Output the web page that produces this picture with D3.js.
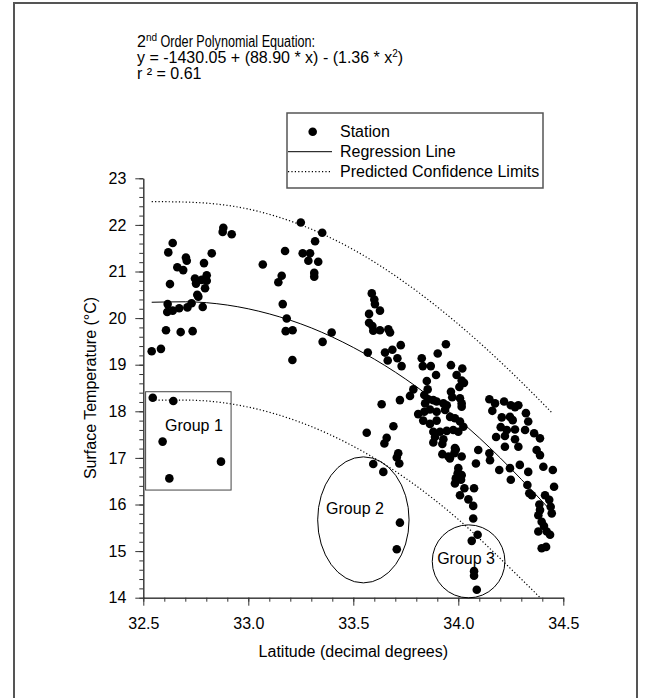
<!DOCTYPE html>
<html><head><meta charset="utf-8">
<script src="https://cdn.jsdelivr.net/npm/d3@7"></script>
<style>
html,body{margin:0;padding:0;background:#fff;}
text{font-family:"Liberation Sans",Arial,sans-serif;}
</style></head>
<body><svg id="c" width="649" height="698"></svg>
<script>
// ---- data ----
const stationLat = [
32.540,32.584,32.608,32.678,32.735,32.616,32.614,32.640,32.671,32.710,32.730,32.757,32.762,32.783,32.627,32.751,32.746,32.778,32.802,32.802,32.794,32.690,32.662,32.703,32.707,32.789,32.826,32.619,32.640,32.881,32.878,32.921,
33.069,33.175,33.143,33.159,33.164,33.183,33.178,33.211,33.210,33.250,33.286,33.259,33.294,33.318,33.333,33.314,33.314,33.352,33.354,33.397,
32.545,32.643,32.592,32.870,32.624,
33.595,33.643,33.722,33.707,
34.064,34.092,34.075,34.075,34.088,
33.588,33.600,33.603,33.627,33.575,33.575,33.591,33.595,33.627,33.667,33.675,33.569,33.651,33.686,33.726,33.664,33.710,33.730,33.941,33.902,33.826,33.831,33.869,33.965,34.019,33.894,33.992,33.850,34.016,34.005,34.027,33.786,33.770,33.854,33.838,33.857,33.881,33.897,33.965,33.971,34.008,33.722,33.635,33.842,33.929,34.016,
33.945,34.016,33.809,33.838,33.865,33.897,33.937,33.961,33.984,34.008,33.833,33.865,33.897,34.024,33.881,33.913,33.945,33.976,34.000,33.889,33.929,33.881,33.924,33.988,33.924,33.953,33.981,34.016,34.000,33.997,33.988,34.013,34.029,34.008,34.048,33.564,33.691,33.659,33.648,33.714,33.707,33.719,
34.148,34.175,34.218,34.250,34.270,34.286,34.162,34.322,34.207,34.246,34.259,34.333,34.202,34.231,34.270,34.318,34.361,34.180,34.222,34.270,34.389,
33.984,33.960,34.016,33.984,34.071,34.075,34.071,34.286,34.222,34.148,34.151,34.095,34.084,34.195,34.250,34.246,34.293,34.333,34.373,34.389,34.405,34.450,34.456,34.329,34.338,34.350,34.413,34.433,34.440,34.445,34.386,34.389,34.381,34.397,34.408,34.421,34.437,34.381,34.397,34.418
];
const stationTemp = [
19.29,19.34,19.74,19.70,19.72,20.30,20.13,20.16,20.21,20.23,20.32,20.50,20.46,20.24,20.73,20.74,20.85,20.82,20.92,20.80,20.64,21.03,21.09,21.30,21.23,21.18,21.39,21.41,21.61,21.94,21.85,21.80,
21.15,21.44,20.77,20.91,20.30,19.99,19.72,19.74,19.10,22.05,21.23,21.39,21.39,21.65,21.21,20.97,20.89,21.83,19.49,19.69,
18.29,18.22,17.35,16.92,16.56,
16.87,16.70,15.61,15.04,
15.22,15.35,14.57,14.47,14.17,
20.53,20.40,20.30,20.16,20.09,19.90,19.83,19.73,19.74,19.76,19.69,19.26,19.26,19.32,19.42,19.09,19.14,18.97,19.44,19.24,19.14,18.97,18.97,18.99,18.92,18.78,18.78,18.65,18.66,18.52,18.61,18.47,18.33,18.47,18.35,18.26,18.24,18.21,18.42,18.30,18.28,18.24,18.15,18.17,18.17,18.17,
18.13,18.10,17.94,17.99,18.04,17.99,18.03,17.88,17.85,17.78,17.80,17.73,17.80,17.67,17.56,17.56,17.58,17.60,17.56,17.45,17.40,17.33,17.30,17.18,17.08,17.03,17.10,17.03,16.78,16.67,16.56,16.53,16.35,16.20,16.11,17.54,17.68,17.43,17.31,17.10,17.01,16.88,
18.26,18.17,18.21,18.13,18.09,18.13,18.01,17.96,17.87,17.88,17.81,17.78,17.66,17.60,17.61,17.60,17.53,17.45,17.47,17.40,17.42,
17.21,16.99,16.63,16.45,15.97,16.35,15.70,17.24,17.24,17.10,16.95,17.17,16.88,16.74,16.53,16.78,16.85,16.70,17.17,17.06,16.81,16.74,16.38,16.42,16.24,16.20,16.20,16.10,15.95,15.81,16.00,15.88,15.77,15.63,15.54,15.42,15.35,15.42,15.06,15.09
];
// regression line and predicted confidence limits
const regLat   = [32.54,32.70,32.90,33.10,33.30,33.50,33.70,33.90,34.10,34.30,34.43];
const regTemp  = [20.34,20.35,20.28,20.09,19.79,19.37,18.84,18.19,17.43,16.54,15.92];
const upperLat  = [32.54,32.70,33.00,33.25,33.50,33.75,34.00,34.25,34.45];
const upperTemp = [22.50,22.49,22.34,22.00,21.47,20.75,19.87,18.85,17.95];
const lowerLat  = [32.54,32.70,33.00,33.25,33.50,33.75,34.00,34.25,34.39];
const lowerTemp = [18.24,18.24,18.09,17.76,17.25,16.56,15.68,14.62,14.00];
// ticks and labels
const xMajorTicks = [32.5,33.0,33.5,34.0,34.5];
const yMajorTicks = [14,15,16,17,18,19,20,21,22,23];
const xTitle = "Latitude (decimal degrees)";
const yTitle = "Surface Temperature (\u00B0C)";
const legendLabels = ["Station","Regression Line","Predicted Confidence Limits"];
const groupLabels = ["Group 1","Group 2","Group 3"];

// ---- layout ----
const svg = d3.select("#c");
const font = '"Liberation Sans",Arial,sans-serif';
svg.append("rect").attr("width",649).attr("height",698).attr("fill","#fff");
svg.append("rect").attr("x",14).attr("y",3).attr("width",623).attr("height",740)
  .attr("fill","none").attr("stroke","#555").attr("stroke-width",2);

const x = d3.scaleLinear().domain([32.5,34.5]).range([143.3,563.3]);
const y = d3.scaleLinear().domain([14,23]).range([597.7,178.3]);

// minor ticks
const xMinor = d3.range(32.5,34.5001,0.1).map(v=>+v.toFixed(1));
const yMinor = d3.range(14,23.0001,0.2).map(v=>+v.toFixed(1));
const gxm = svg.append("g").attr("transform",`translate(0,${y(14)})`)
  .call(d3.axisBottom(x).tickValues(xMinor).tickSize(4).tickSizeOuter(0).tickFormat(""));
const gym = svg.append("g").attr("transform",`translate(${x(32.5)},0)`)
  .call(d3.axisLeft(y).tickValues(yMinor).tickSize(4).tickSizeOuter(0).tickFormat(""));
const gx = svg.append("g").attr("transform",`translate(0,${y(14)})`)
  .call(d3.axisBottom(x).tickValues(xMajorTicks).tickSize(8).tickSizeOuter(0).tickPadding(12).tickFormat(d3.format(".1f")));
const gy = svg.append("g").attr("transform",`translate(${x(32.5)},0)`)
  .call(d3.axisLeft(y).tickValues(yMajorTicks).tickSize(8).tickSizeOuter(0).tickPadding(9).tickFormat(d3.format("d")));
[gxm,gym,gx,gy].forEach(g=>{
  g.selectAll("path,line").attr("stroke","#333").attr("stroke-width",1);
  g.selectAll("text").attr("font-family",font).attr("font-size",16).attr("fill","#000");
});

// axis titles
svg.append("text").attr("x",(x(32.5)+x(34.5))/2).attr("y",657).attr("text-anchor","middle")
  .attr("font-size",16).text(xTitle);
svg.append("text").attr("transform",`translate(96,${(y(14)+y(23))/2}) rotate(-90)`)
  .attr("text-anchor","middle").attr("font-size",16).text(yTitle);

// curves
const line = (lats,temps)=>d3.line().x((d,i)=>x(lats[i])).y((d,i)=>y(temps[i])).curve(d3.curveMonotoneX)(lats);
svg.append("path").attr("d",line(upperLat,upperTemp)).attr("fill","none").attr("stroke","#000")
  .attr("stroke-width",1.2).attr("stroke-dasharray","1.2,2.2");
svg.append("path").attr("d",line(lowerLat,lowerTemp)).attr("fill","none").attr("stroke","#000")
  .attr("stroke-width",1.2).attr("stroke-dasharray","1.2,2.2");
svg.append("path").attr("d",line(regLat,regTemp)).attr("fill","none").attr("stroke","#000").attr("stroke-width",1);

// group annotations (data coordinates)
const g1 = {lat0:32.511, lat1:32.918, t0:18.42, t1:16.31};
svg.append("rect").attr("x",x(g1.lat0)).attr("y",y(g1.t0))
  .attr("width",x(g1.lat1)-x(g1.lat0)).attr("height",y(g1.t1)-y(g1.t0))
  .attr("fill","none").attr("stroke","#444").attr("stroke-width",1);
const ell = [{lat:33.548,t:15.67,dl:0.2176,dt:1.352},{lat:34.049,t:14.78,dl:0.173,dt:0.783}];
ell.forEach(e=>{
  svg.append("ellipse").attr("cx",x(e.lat)).attr("cy",y(e.t))
    .attr("rx",x(e.lat+e.dl)-x(e.lat)).attr("ry",y(e.t-e.dt)-y(e.t))
    .attr("fill","none").attr("stroke","#000").attr("stroke-width",1);
});
const glPos = [{lat:32.741,t:17.70},{lat:33.508,t:15.92},{lat:34.037,t:14.85}];
groupLabels.forEach((s,i)=>{
  svg.append("text").attr("x",x(glPos[i].lat)).attr("y",y(glPos[i].t)).attr("dy","0.35em")
    .attr("text-anchor","middle").attr("font-size",16).text(s);
});

// points
svg.append("g").selectAll("circle").data(stationLat).join("circle")
  .attr("cx",(d,i)=>x(stationLat[i])).attr("cy",(d,i)=>y(stationTemp[i]))
  .attr("r",4.3).attr("fill","#000");

// legend
const lg = svg.append("g");
lg.append("rect").attr("x",287).attr("y",113).attr("width",256).attr("height",75)
  .attr("fill","#fff").attr("stroke","#555").attr("stroke-width",1.5);
lg.append("circle").attr("cx",312.7).attr("cy",131.7).attr("r",4.3).attr("fill","#000");
lg.append("line").attr("x1",288).attr("x2",332).attr("y1",151.7).attr("y2",151.7).attr("stroke","#000");
lg.append("line").attr("x1",288).attr("x2",332).attr("y1",171.7).attr("y2",171.7).attr("stroke","#000")
  .attr("stroke-width",1.2).attr("stroke-dasharray","1.2,2.2");
legendLabels.forEach((s,i)=>{
  lg.append("text").attr("x",340).attr("y",131.7+20*i).attr("dy","0.35em").attr("font-size",16).text(s);
});

// equation text
const t1 = svg.append("text").attr("x",137).attr("y",47).attr("font-size",16);
t1.append("tspan").text("2");
t1.append("tspan").attr("font-size",10).attr("dy",-6).text("nd");
t1.append("tspan").attr("dy",6).attr("textLength",158).attr("lengthAdjust","spacingAndGlyphs")
  .text(" Order Polynomial Equation:");
const t2 = svg.append("text").attr("x",137).attr("y",63).attr("font-size",16);
t2.append("tspan").text("y = -1430.05 + (88.90 * x) - (1.36 * x");
t2.append("tspan").attr("font-size",10).attr("dy",-6).text("2");
t2.append("tspan").attr("dy",6).text(")");
svg.append("text").attr("x",137).attr("y",79).attr("font-size",16).text("r \u00B2 = 0.61");
</script></body></html>
